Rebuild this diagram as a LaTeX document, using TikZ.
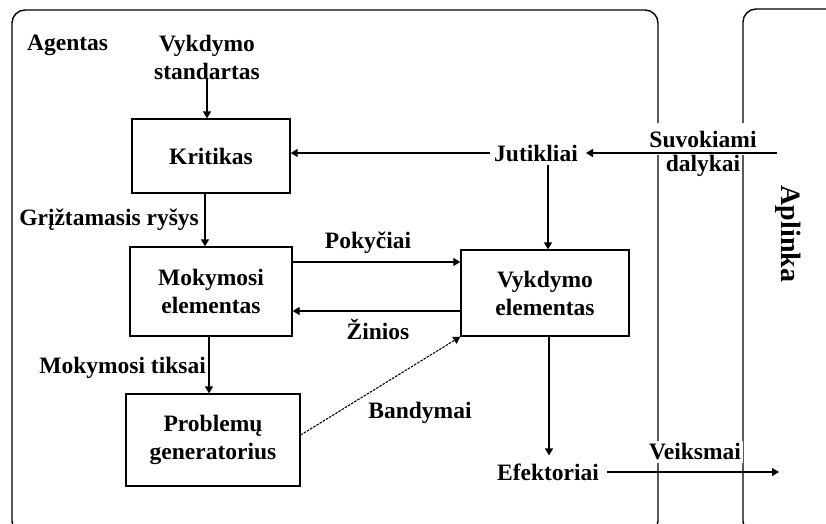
\documentclass[tikz,border=0pt]{standalone}
\usepackage{fontspec}
\setmainfont{Liberation Serif}
\usetikzlibrary{arrows.meta}
\begin{document}
\begin{tikzpicture}[x=1pt,y=-1pt,
  lbl/.style={font=\fontsize{23.5}{28}\selectfont\bfseries, inner sep=0pt, align=center},
  blk/.style={lbl, draw, line width=1.4pt},
  flow/.style={line width=1.4pt, -{Triangle[length=7pt,width=8pt]}},
  frame/.style={line width=1.4pt, rounded corners=13pt},
]
\useasboundingbox (0,0) rectangle (826,523);
% agent and environment frames
\begin{scope}
  \clip (0,0) rectangle (826,523);
  \draw[frame] (12,10) rectangle (658,534);
  \draw[frame] (743,9) rectangle (900,534);
\end{scope}

% blocks
\node[blk, minimum width=158pt, minimum height=74pt] (krit) at (211,156) {Kritikas};
\node[blk, minimum width=162pt, minimum height=89pt] (mok) at (211,291.5) {Mokymosi\\elementas};
\node[blk, minimum width=168pt, minimum height=86pt] (vyk) at (545,293) {Vykdymo\\elementas};
\node[blk, minimum width=174pt, minimum height=92pt] (prob) at (213,440) {Problemų\\generatorius};

% free texts
\node[lbl, anchor=west] (ag) at (27,45) {Agentas};
\node[lbl] (std) at (207,57) {Vykdymo\\standartas};
\node[lbl] (jut) at (536,153) {Jutikliai};
\node[lbl] (ef) at (548,472) {Efektoriai};
\node[lbl, fill=white, inner xsep=2pt, inner ysep=8pt] (suv) at (703,139) {Suvokiami};
\node[lbl] (dal) at (703,166) {dalykai};
\node[lbl, fill=white, inner xsep=2pt, inner ysep=3pt] (veik) at (695,452) {Veiksmai};
\node[font=\fontsize{28}{30}\selectfont\bfseries, rotate=-90, inner sep=0pt] (apl) at (788,234) {Aplinka};

% connector labels
\node[lbl, anchor=east] (grl) at (199,220) {Grįžtamasis ryšys};
\node[lbl, anchor=east] (mtl) at (206,368) {Mokymosi tiksai};
\node[lbl] (pokl) at (368,243) {Pokyčiai};
\node[lbl] (zinl) at (378,329) {Žinios};
\node[lbl] (bandl) at (420,413) {Bandymai};

\coordinate (in) at (777,153);
\coordinate (out) at (779,472);

% connectors
\draw[flow] (std.south) -- (std.south |- krit.north);
\draw[flow] ([xshift=-6pt]krit.south) -- ([xshift=-6pt]krit.south |- mok.north);
\draw[flow] ([xshift=-2pt]mok.south) -- ([xshift=-2pt]mok.south |- prob.north);
\draw[flow] (mok.east |- 0,262) -- (vyk.west |- 0,262);
\draw[flow] (vyk.west |- 0,311) -- (mok.east |- 0,311);
\draw[flow, line width=1.1pt, dash pattern=on 2.5pt off 1.2pt] (prob.east |- 0,435) -- (vyk.south west);
\draw[flow] ([xshift=-4pt]jut.west) -- (jut.west -| krit.east);
\draw[flow] (in) -- ([xshift=8pt]jut.east);
\draw[flow] ([yshift=-3pt]jut.south -| 548,0) -- (vyk.north -| 548,0);
\draw[flow] (vyk.south -| 549,0) -- ([yshift=8pt]ef.north -| 549,0);
\draw[flow] ([xshift=8pt]ef.east) -- (out);
\end{tikzpicture}
\end{document}
